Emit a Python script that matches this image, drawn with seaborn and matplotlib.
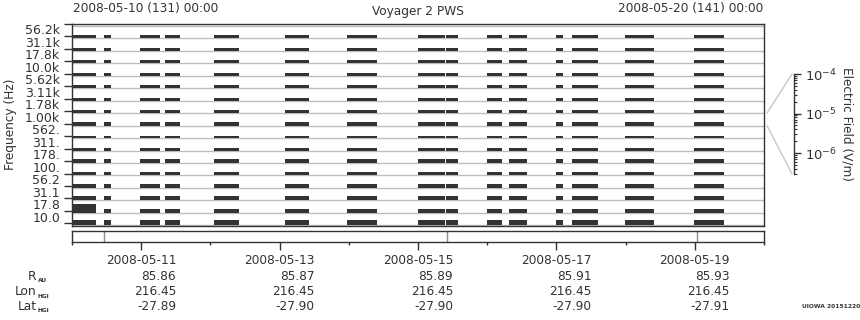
import matplotlib
matplotlib.use("Agg")
import matplotlib.pyplot as plt
import matplotlib.transforms as mtrans
from matplotlib.lines import Line2D
from matplotlib.ticker import FixedLocator, NullFormatter, LogLocator, FixedFormatter
import seaborn as sns

# ---------------- data ----------------
channel_labels = ['10.0', '17.8', '31.1', '56.2', '100.', '178.', '311.', '562.',
                  '1.00k', '1.78k', '3.11k', '5.62k', '10.0k', '17.8k', '31.1k', '56.2k']
# typical log10 E-field (V/m) level of each channel during data intervals
channel_level = [-5.41, -5.72, -5.72, -5.72, -5.86, -5.78, -5.92, -6.12,
                 -5.72, -5.92, -5.92, -5.92, -5.92, -5.92, -5.92, -5.92]
# data intervals (hours after 2008-05-10 00:00)
seg_start = [0.0, 11.1, 23.6, 32.3, 49.2, 73.9, 95.4, 120.0, 129.7, 143.9, 151.6, 167.9, 173.4, 191.8, 215.7]
seg_end = [8.3, 13.5, 30.5, 37.5, 57.9, 82.2, 105.8, 129.4, 133.9, 149.1, 157.8, 170.3, 182.4, 201.8, 226.1]
# 17.8 Hz channel per interval (elevated in the first interval)
level_17hz = [-4.70, -5.72, -5.72, -5.72, -5.72, -5.72, -5.72, -5.72,
              -5.72, -5.72, -5.72, -5.72, -5.72, -5.72, -5.72]
# colorbar range (log10 V/m)
log_min, log_max = -6.53, -4.0
cbar_channel = 8  # 1.00k channel shown by the scale

event_hours = [11.1, 130.1, 216.8]

day_hours = [24, 72, 120, 168, 216]
day_labels = ['2008-05-11', '2008-05-13', '2008-05-15', '2008-05-17', '2008-05-19']
r_au = ['85.86', '85.87', '85.89', '85.91', '85.93']
lon_hgi = ['216.45', '216.45', '216.45', '216.45', '216.45']
lat_hgi = ['-27.89', '-27.90', '-27.90', '-27.90', '-27.91']
minor_day_hours = [0, 48, 96, 144, 192, 240]

# ---------------- style ----------------
sns.set_theme(style="white")
plt.rcParams['font.family'] = ['DejaVu Sans']
TXT = '#333333'
DARK = '#333333'
GRID = '#bdbdbd'
FS = 8.7

W, H = 860, 320
fig = plt.figure(figsize=(W / 100, H / 100), dpi=100)


def fx(px):
    return px / W


def fy(py):
    return 1 - py / H


# ---------------- main panel ----------------
ax = fig.add_axes([fx(72), fy(225.5), (764 - 72) / W, (225.5 - 23.5) / H])
ax.set_xlim(0, 240)
ax.set_ylim(-0.17, 16.03)
base_off = 0.16

for k in range(17):
    ax.axhline(k - base_off, color=GRID, lw=1.0, zorder=1)

for k in range(16):
    base = k - base_off
    for s in range(len(seg_start)):
        lvl = level_17hz[s] if k == 1 else channel_level[k]
        h = (lvl - log_min) / (log_max - log_min)
        ax.bar(seg_start[s], h, width=seg_end[s] - seg_start[s], bottom=base,
               align='edge', color=DARK, linewidth=0, zorder=2)

for sp in ax.spines.values():
    sp.set_visible(True)
    sp.set_color(DARK)
    sp.set_linewidth(1.0)

ax.set_xticks([])
ax.yaxis.set_major_locator(FixedLocator(list(range(17))))
ax.yaxis.set_major_formatter(NullFormatter())
ax.yaxis.set_minor_locator(FixedLocator([k + 0.55 for k in range(16)]))
ax.yaxis.set_minor_formatter(FixedFormatter(channel_labels))
ax.tick_params(axis='y', which='major', direction='out', length=6, width=1, color=DARK, left=True)
ax.tick_params(axis='y', which='minor', length=0, pad=8.5, labelsize=9, labelcolor=TXT, left=True)
ax.set_ylabel('Frequency (Hz)', fontsize=FS, color=TXT, labelpad=2)
ax.yaxis.set_label_coords(fx(12) - fx(72), 0.5, transform=None) if False else None
fig.text(fx(11), fy(124.5), 'Frequency (Hz)', rotation=90, ha='center', va='center',
         fontsize=FS, color=TXT)
ax.set_ylabel('')

# ---------------- headers ----------------
fig.text(fx(73), fy(8.5), '2008-05-10 (131) 00:00', ha='left', va='center', fontsize=FS, color=TXT)
fig.text(fx(763), fy(8.5), '2008-05-20 (141) 00:00', ha='right', va='center', fontsize=FS, color=TXT)
fig.text(fx(418), fy(11.5), 'Voyager 2 PWS', ha='center', va='center', fontsize=FS, color=TXT)

# ---------------- bottom panel ----------------
ax2 = fig.add_axes([fx(72), fy(242), (764 - 72) / W, 11 / H])
ax2.set_xlim(0, 240)
ax2.set_ylim(0, 1)
for sp in ax2.spines.values():
    sp.set_visible(True)
    sp.set_color(DARK)
    sp.set_linewidth(1.0)
for t in event_hours:
    ax2.axvline(t, color='#8c8c8c', lw=1.0)
ax2.set_yticks([])
ax2.xaxis.set_major_locator(FixedLocator(day_hours))
ax2.xaxis.set_minor_locator(FixedLocator(minor_day_hours))
ax2.xaxis.set_major_formatter(NullFormatter())
ax2.tick_params(axis='x', which='major', direction='out', length=5.6, width=1, color=DARK, bottom=True)
ax2.tick_params(axis='x', which='minor', direction='out', length=2.2, width=1, color=DARK, bottom=True)

blend = mtrans.blended_transform_factory(ax2.transData, fig.transFigure)
right_tr = mtrans.offset_copy(blend, fig=fig, x=35, y=0, units='dots')
for i, t in enumerate(day_hours):
    fig.text(t, fy(260), day_labels[i], transform=blend, ha='center', va='center', fontsize=FS, color=TXT)
    fig.text(t, fy(276.5), r_au[i], transform=right_tr, ha='right', va='center', fontsize=FS, color=TXT)
    fig.text(t, fy(291.5), lon_hgi[i], transform=right_tr, ha='right', va='center', fontsize=FS, color=TXT)
    fig.text(t, fy(306.5), lat_hgi[i], transform=right_tr, ha='right', va='center', fontsize=FS, color=TXT)

row_names = [('R', 'AU', 276.5), ('Lon', 'HGI', 291.5), ('Lat', 'HGI', 306.5)]
for main, sub, yy in row_names:
    fig.text(fx(36.5), fy(yy), main, ha='right', va='center', fontsize=FS, color=TXT)
    fig.text(fx(37.5), fy(yy + 4.5), sub, ha='left', va='center', fontsize=4.2,
             fontweight='bold', color=TXT)

fig.text(fx(860), fy(307), 'UIOWA 20151220', ha='right', va='center', fontsize=4.3,
         fontweight='bold', color=TXT)

# ---------------- colour scale ----------------
cax = fig.add_axes([fx(794), fy(174), 0.0001, 100 / H])
cax.set_yscale('log')
cax.set_ylim(10 ** log_min, 10 ** log_max)
cax.set_xticks([])
for name, sp in cax.spines.items():
    sp.set_visible(name == 'right')
cax.spines['right'].set_color(DARK)
cax.spines['right'].set_linewidth(1.0)
cax.patch.set_alpha(0)
cax.yaxis.tick_right()
cax.yaxis.set_major_locator(FixedLocator([1e-6, 1e-5, 1e-4]))
cax.yaxis.set_major_formatter(FixedFormatter([r'$10^{-6}$', r'$10^{-5}$', r'$10^{-4}$']))
cax.yaxis.set_minor_locator(LogLocator(base=10, subs=[2, 3, 4, 5, 6, 7, 8, 9], numticks=20))
cax.yaxis.set_minor_formatter(NullFormatter())
cax.tick_params(axis='y', which='major', direction='out', length=5, width=1, color=DARK,
                labelsize=9.5, labelcolor=TXT, pad=3, right=True, left=False)
cax.tick_params(axis='y', which='minor', direction='out', length=2.5, width=0.8, color=DARK,
                right=True, left=False)
fig.text(fx(847), fy(124), 'Electric Field (V/m)', rotation=270, ha='center', va='center',
         fontsize=FS, color=TXT)

# connector lines from the 1.00k strip to the scale
fig.canvas.draw()
inv = fig.transFigure.inverted()
p_top = ax.transData.transform((240, cbar_channel - base_off + 1)) + [3, 0]
p_bot = ax.transData.transform((240, cbar_channel - base_off)) + [3, 0]
q_top = cax.transAxes.transform((0, 1)) + [-2, 0]
q_bot = cax.transAxes.transform((0, 0)) + [-2, 0]
for p, q in [(p_top, q_top), (p_bot, q_bot)]:
    a = inv.transform(p)
    b = inv.transform(q)
    fig.add_artist(Line2D([a[0], b[0]], [a[1], b[1]], transform=fig.transFigure,
                          color='#c8c8c8', lw=1.0))

fig.savefig('out.png', dpi=100)
